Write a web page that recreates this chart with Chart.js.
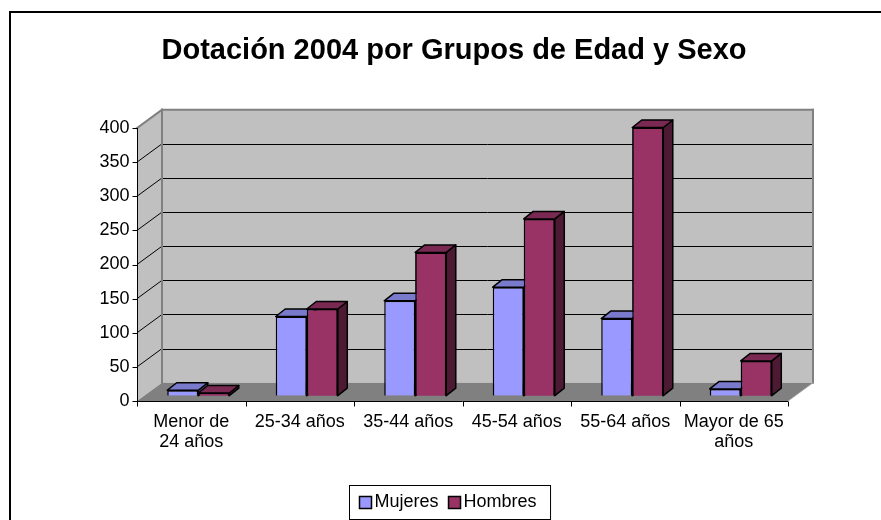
<!DOCTYPE html>
<html><head><meta charset="utf-8">
<script src="https://cdn.jsdelivr.net/npm/chart.js@4"></script>
<style>html,body{margin:0;padding:0;background:#fff}canvas{display:block}</style>
</head><body>
<canvas id="c" width="881" height="520"></canvas>
<script>
const categories = [['Menor de','24 años'],'25-34 años','35-44 años','45-54 años','55-64 años',['Mayor de 65','años']];
const mujeres = [8,116,139,159,113,10];
const hombres = [4,127,210,259,393,51];
const yTicks = [0,50,100,150,200,250,300,350,400];
const seriesNames = ['Mujeres','Hombres'];
const titleText = 'Dotación 2004 por Grupos de Edad y Sexo';

const FONT = '"Liberation Sans", Arial, sans-serif';
const FRONT = {dx:-7, dy:5.3};
const BACK = {dx:18, dy:-13};
const DEPTH = {dx:9.5, dy:-7.5};
const COLORS = ['#9999FF','#993366'];
const TOPS = ['#7A7ACC','#7A2952'];
const SIDES = ['#4D4D80','#4D1A33'];

function poly(ctx, pts, fill, stroke, lw){
  ctx.beginPath();
  ctx.moveTo(pts[0][0], pts[0][1]);
  for (let i=1;i<pts.length;i++) ctx.lineTo(pts[i][0], pts[i][1]);
  ctx.closePath();
  if (fill){ctx.fillStyle=fill;ctx.fill();}
  if (stroke){ctx.strokeStyle=stroke;ctx.lineWidth=lw||1;ctx.lineJoin='round';ctx.stroke();}
}
function line(ctx,x1,y1,x2,y2,c,w){
  ctx.beginPath();ctx.moveTo(x1,y1);ctx.lineTo(x2,y2);ctx.strokeStyle=c;ctx.lineWidth=w;ctx.stroke();
}

function faces(ctx, el, k){
  const p = el.getProps(['x','y','width','base'], true);
  const l = p.x - p.width/2, r = p.x + p.width/2, t = Math.min(p.y,p.base), b = Math.max(p.y,p.base);
  const dx = DEPTH.dx, dy = DEPTH.dy;
  poly(ctx, [[r,t],[r+dx,t+dy],[r+dx,b+dy],[r,b]], SIDES[k], '#000', 1.5);
  poly(ctx, [[l,t],[l+dx,t+dy],[r+dx,t+dy],[r,t]], TOPS[k], '#000', 1.5);
}

const excel3d = {
  id:'excel3d',
  beforeDraw(chart){
    const ctx = chart.ctx;
    ctx.save();
    ctx.fillStyle='#fff';ctx.fillRect(0,0,chart.width,chart.height);
    // outer border
    ctx.beginPath();ctx.moveTo(10,600);ctx.lineTo(10,12);ctx.lineTo(900,12);
    ctx.strokeStyle='#000';ctx.lineWidth=2;ctx.stroke();
    // title
    ctx.fillStyle='#000';ctx.font='bold 29px '+FONT;ctx.textAlign='center';ctx.textBaseline='middle';
    ctx.fillText(titleText, 454, 51);
    ctx.restore();
  },
  beforeDatasetsDraw(chart){
    const ctx = chart.ctx, ca = chart.chartArea, y = chart.scales.y, x = chart.scales.x;
    const L = ca.left, R = ca.right;
    const FL = L+FRONT.dx, FR = R+FRONT.dx, BL = L+BACK.dx, BR = R+BACK.dx;
    const fy = v => y.getPixelForValue(v)+FRONT.dy;
    const by = v => y.getPixelForValue(v)+BACK.dy;
    const top = yTicks[yTicks.length-1], bot = yTicks[0];
    ctx.save();
    // walls
    poly(ctx, [[BL,by(top)],[BR,by(top)],[BR,by(bot)],[BL,by(bot)]], '#C0C0C0');
    poly(ctx, [[FL,fy(top)],[BL,by(top)],[BL,by(bot)],[FL,fy(bot)]], '#C0C0C0');
    poly(ctx, [[FL,fy(bot)],[FR,fy(bot)],[BR,by(bot)],[BL,by(bot)]], '#808080');
    // gridlines
    yTicks.forEach(v => {
      if (v===bot || v===top) return;
      line(ctx, BL, Math.round(by(v))+0.5, BR, Math.round(by(v))+0.5, '#000', 1);
      line(ctx, FL, fy(v), BL, by(v), '#000', 1);
    });
    // wall edges
    ctx.lineCap='square';
    line(ctx, BL, by(top), BL, by(bot), '#808080', 2);
    line(ctx, BR, by(top), BR, by(bot), '#808080', 2);
    line(ctx, BL, by(top), BR, by(top), '#808080', 2);
    line(ctx, FL, fy(top), BL, by(top), '#808080', 2);
    line(ctx, FR, fy(bot), BR, by(bot), '#A0A0A0', 1);
    ctx.lineCap='butt';
    // front value axis
    const ax = Math.round(FL)+0.5;
    line(ctx, ax, fy(top), ax, fy(bot), '#000', 1);
    ctx.fillStyle='#000';ctx.font='18px '+FONT;ctx.textAlign='right';ctx.textBaseline='middle';
    yTicks.forEach(v => {
      const yy = Math.round(fy(v))+0.5;
      line(ctx, ax-5, yy, ax, yy, '#000', 1);
      ctx.fillText(String(v), ax-8, fy(v));
    });
    // category axis
    const ay = Math.round(fy(bot))+0.5;
    line(ctx, FL, ay, FR, ay, '#000', 1);
    const n = categories.length, w = (R-L)/n;
    for (let i=0;i<=n;i++){
      const xx = Math.round(FL + i*w)+0.5;
      line(ctx, xx, ay, xx, ay+5, '#000', 1);
    }
    ctx.textAlign='center';
    categories.forEach((c,i) => {
      const lines = Array.isArray(c) ? c : [c];
      const cx = x.getPixelForValue(i)+FRONT.dx;
      lines.forEach((t,k) => ctx.fillText(t, cx, fy(bot)+21+k*20));
    });
    ctx.restore();
  },
  afterDatasetsDraw(chart){
    const ctx = chart.ctx;
    const m0 = chart.getDatasetMeta(0), m1 = chart.getDatasetMeta(1);
    ctx.save();
    for (let i=0;i<categories.length;i++){
      faces(ctx, m0.data[i], 0);
      m1.data[i].draw(ctx);
      faces(ctx, m1.data[i], 1);
    }
    ctx.restore();
  },
  afterDraw(chart){
    const ctx = chart.ctx;
    ctx.save();
    ctx.font='18px '+FONT;ctx.textBaseline='middle';ctx.textAlign='left';
    const sq=12, gap=3, sep=10, pad=10;
    const w0 = ctx.measureText(seriesNames[0]).width, w1 = ctx.measureText(seriesNames[1]).width;
    const inner = sq+gap+w0+sep+sq+gap+w1;
    const bw = inner+2*pad+4, bl = Math.round(450 - bw/2)+0.5, bt = 485.5, bh = 34;
    ctx.fillStyle='#fff';ctx.fillRect(bl,bt,bw,bh);
    ctx.strokeStyle='#000';ctx.lineWidth=1;ctx.strokeRect(bl,bt,bw,bh);
    let xx = bl+pad;
    const cy = bt+bh/2;
    seriesNames.forEach((s,k) => {
      ctx.fillStyle=COLORS[k];ctx.fillRect(xx, cy-6, sq, sq);
      ctx.strokeStyle='#000';ctx.lineWidth=1.5;ctx.strokeRect(xx, cy-6, sq, sq);
      ctx.fillStyle='#000';ctx.fillText(s, xx+sq+gap, cy);
      xx += sq+gap+(k===0?w0:w1)+sep;
    });
    ctx.restore();
  }
};

new Chart(document.getElementById('c'), {
  type:'bar',
  data:{
    labels: categories,
    datasets:[
      {label:seriesNames[0], data:mujeres, backgroundColor:COLORS[0], borderColor:'#000', borderWidth:1.5, categoryPercentage:0.572, barPercentage:1},
      {label:seriesNames[1], data:hombres, backgroundColor:COLORS[1], borderColor:'#000', borderWidth:1.5, categoryPercentage:0.572, barPercentage:1}
    ]
  },
  options:{
    responsive:false, animation:false, devicePixelRatio:1,
    layout:{padding:{left:144, right:86, top:122.7, bottom:124.3}},
    plugins:{legend:{display:false}, title:{display:false}, tooltip:{enabled:false}},
    scales:{
      x:{display:false, offset:true},
      y:{display:false, min:0, max:400}
    }
  },
  plugins:[excel3d]
});
</script>
</body></html>
